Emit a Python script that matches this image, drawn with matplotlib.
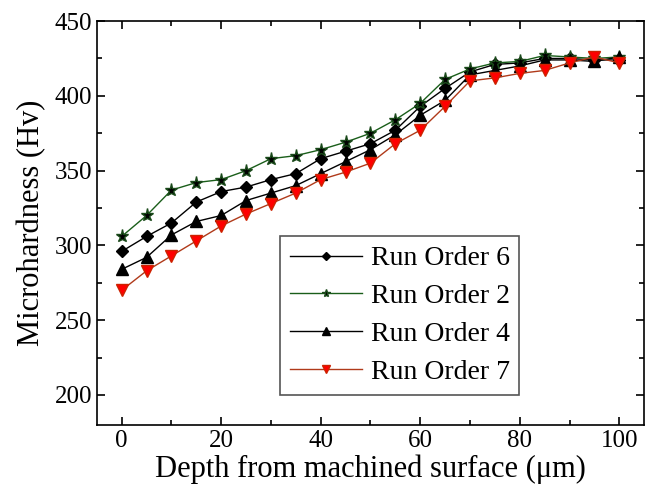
import numpy as np
import matplotlib
matplotlib.use('Agg')
import matplotlib.pyplot as plt
from matplotlib.ticker import MultipleLocator

plt.rcParams['font.family'] = ['Liberation Serif', 'DejaVu Serif']

depth = [0, 5, 10, 15, 20, 25, 30, 35, 40, 45, 50,
         55, 60, 65, 70, 75, 80, 85, 90, 95, 100]
run6 = [296, 306, 315, 329, 336, 339, 344, 348, 358, 363, 368,
        377, 393, 405, 416, 421, 422, 425, 425, 424, 424]
run2 = [306, 320, 337, 342, 344, 350, 358, 360, 364, 369, 375,
        384, 395, 411, 418, 422, 423, 427, 426, 425, 426]
run4 = [284, 292, 307, 316, 320, 330, 335, 340, 348, 356, 364,
        374, 387, 397, 414, 417, 420, 424, 424, 423, 426]
run7 = [270, 283, 293, 303, 313, 321, 328, 335, 344, 349, 355,
        368, 377, 393, 410, 412, 415, 417, 422, 426, 422]

fig = plt.figure(figsize=(6.5, 4.9), dpi=100)
ax = fig.add_axes([0.149, 0.133, 0.842, 0.824])

ax.plot(depth, run6, color='black', lw=1, marker='D', ms=6.5, mfc='black',
        mec='black', label='Run Order 6')
ax.plot(depth, run2, color='#1a5e1a', lw=1, marker='*', ms=9.5, mfc='black',
        mec='#1a4a1a', label='Run Order 2')
ax.plot(depth, run4, color='black', lw=1, marker='^', ms=8.5, mfc='black',
        mec='black', label='Run Order 4')
ax.plot(depth, run7, color='#b03a1a', lw=1, marker='v', ms=8.5, mfc='red',
        mec='#cc2200', label='Run Order 7')

ax.set_xlim(-5, 105)
ax.set_ylim(180, 450)
ax.xaxis.set_major_locator(MultipleLocator(20))
ax.xaxis.set_minor_locator(MultipleLocator(10))
ax.yaxis.set_major_locator(MultipleLocator(50))
ax.yaxis.set_minor_locator(MultipleLocator(25))
ax.tick_params(which='both', direction='in', top=True, right=True,
               labelsize=18, width=1.2)
ax.tick_params(which='major', length=6)
ax.tick_params(which='minor', length=3.5)
for s in ax.spines.values():
    s.set_linewidth(1.2)

ax.set_xlabel('Depth from machined surface (\u03bcm)', fontsize=22, labelpad=2)
ax.set_ylabel('Microhardness (Hv)', fontsize=22, labelpad=6)

leg = ax.legend(loc='lower left', bbox_to_anchor=(0.31, 0.04), fontsize=20,
                fancybox=False, edgecolor='#555555', handlelength=2.6,
                handletextpad=0.3, markerscale=0.6,
                borderpad=0.35, labelspacing=0.45, framealpha=1)
leg.get_frame().set_linewidth(1.2)

fig.savefig('out.png', dpi=100)
